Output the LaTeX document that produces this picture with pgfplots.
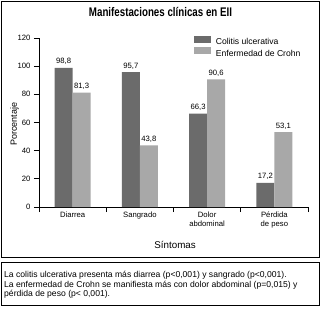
\documentclass[border=0pt]{standalone}
\usepackage{fontspec}
\setmainfont{Liberation Sans}
\usepackage{pgfplots}
\pgfplotsset{compat=1.18}
\definecolor{cu}{HTML}{6B6B6B}
\definecolor{ec}{HTML}{A8A8A8}
\begin{document}
\begin{tikzpicture}
\useasboundingbox (0pt,0pt) rectangle (321pt,309pt);
\draw[line width=1pt] (1.5pt,307.5pt) rectangle (319.5pt,52pt);
\draw[line width=1pt] (1.5pt,47pt) rectangle (319.5pt,4pt);
\node[anchor=base,inner sep=0pt] at (160.5pt,293pt) {\scalebox{0.78}[1]{\fontsize{12.5}{14}\selectfont\bfseries Manifestaciones clínicas en EII}};
\node[anchor=base west,inner sep=0pt,font=\fontsize{8.6}{9.7}\selectfont] at (4pt,31.7pt) {La colitis ulcerativa presenta más diarrea (p<0,001) y sangrado (p<0,001).};
\node[anchor=base west,inner sep=0pt,font=\fontsize{8.6}{9.7}\selectfont] at (4pt,22pt) {La enfermedad de Crohn se manifiesta más con dolor abdominal (p=0,015) y};
\node[anchor=base west,inner sep=0pt,font=\fontsize{8.6}{9.7}\selectfont] at (4pt,12.3pt) {pérdida de peso (p< 0,001).};
\begin{axis}[
  at={(39pt,102pt)}, anchor=south west,
  scale only axis, width=269pt, height=169pt,
  xmin=0.5, xmax=4.5, ymin=0, ymax=120,
  axis x line*=bottom, axis y line*=left,
  axis line style={line width=0.9pt},
  ytick={0,20,...,120},
  xtick={0.5,1.5,2.5,3.5,4.5},
  x tick label as interval,
  xticklabels={Diarrea,Sangrado,{Dolor\\abdominal},{Pérdida\\de peso}},
  x tick label style={align=center,font=\fontsize{7.7}{9}\selectfont,inner sep=0pt,anchor=north},
  y tick label style={font=\fontsize{7.7}{9}\selectfont},
  tick align=outside, major tick length=5pt,
  tick style={black,line width=0.8pt},
  /pgf/number format/assume math mode=true,
  ybar=0pt, bar width=18pt,
  nodes near coords={\pgfmathprintnumber[fixed,fixed zerofill,precision=1,use comma,assume math mode=true]{\pgfplotspointmeta}},
  every node near coord/.append style={font=\fontsize{7.7}{9}\selectfont,inner sep=3pt,black},
  ylabel={Porcentaje},
  ylabel style={at={(axis description cs:-0.091,0.49)},anchor=center,font=\fontsize{9}{10}\selectfont},
  xlabel={Síntomas},
  xlabel style={at={(axis description cs:0.506,-0.2426)},anchor=base,font=\fontsize{9.8}{11}\selectfont},
  legend style={draw=none,fill=none,at={(axis description cs:0.576,1.013)},anchor=north west,
    font=\fontsize{8.6}{10}\selectfont,inner sep=0pt,row sep=0pt,
    nodes={inner sep=0.5pt,text height=7pt,text depth=2pt}},
  legend cell align=left,
  legend image code/.code={\fill[#1] (0pt,-0.3pt) rectangle (16.7pt,6.3pt); \path (21.2pt,0pt);},
]
\addplot[fill=cu,draw=none] coordinates {(1,98.8) (2,95.7) (3,66.3) (4,17.2)};
\addplot[fill=ec,draw=none] coordinates {(1,81.3) (2,43.8) (3,90.6) (4,53.1)};
\legend{Colitis ulcerativa,Enfermedad de Crohn}
\end{axis}
\end{tikzpicture}
\end{document}
